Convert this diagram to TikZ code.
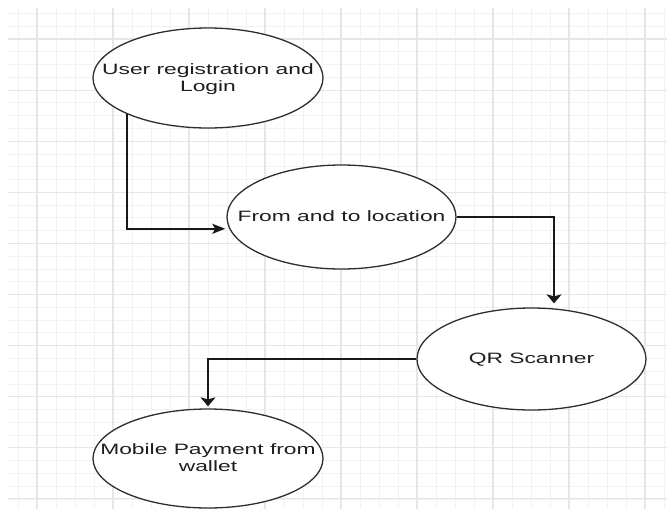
\documentclass[tikz,border=0pt]{standalone}
\usepackage{fontspec}
\setmainfont{Liberation Sans}
\usepackage{graphicx}
\usetikzlibrary{shapes.geometric,arrows.meta}

\definecolor{gridminor}{HTML}{F2F2F2}
\definecolor{gridmajor}{HTML}{E6E6E6}
\definecolor{ink}{HTML}{1E1E1E}
\definecolor{outline}{HTML}{2E2E2E}

% labels are set wide, as on the stretched canvas
\newcommand\widetext[1]{\scalebox{1.52}[1]{\begin{tabular}{@{}c@{}}#1\end{tabular}}}

\begin{document}
\begin{tikzpicture}[x=1pt,y=-1pt,
  stage/.style={ellipse, draw=outline, line width=1.3pt, fill=white,
    minimum width=230pt, minimum height=100pt, inner sep=0pt},
  caption/.style={text=ink, font=\fontsize{15}{17}\selectfont, inner sep=0pt, yshift=-1.5pt},
  flow/.style={draw=black!90, line width=1.6pt},
  headh/.style={-{Stealth[length=13pt,width=10pt,inset=3pt]}},
  headv/.style={-{Stealth[length=9pt,width=15pt,inset=2pt]}},
  minorline/.style={draw=gridminor, line width=0.8pt},
  majorline/.style={draw=gridmajor, line width=1.1pt}]

\useasboundingbox (0,0) rectangle (667,509);
\fill[white] (0,0) rectangle (667,509);

% background grid
\begin{scope}
  \clip (8,8) rectangle (667,509);
  \foreach \i in {0,...,34}
    \draw[minorline] ({18+19*\i},8) -- ({18+19*\i},509);
  \foreach \i in {0,...,38}
    \draw[minorline] (8,{13.45+12.775*\i}) -- (667,{13.45+12.775*\i});
  \foreach \i in {0,...,8}
    \draw[majorline] ({37+76*\i},8) -- ({37+76*\i},509);
  \foreach \i in {0,...,9}
    \draw[majorline] (8,{39+51.1*\i}) -- (667,{39+51.1*\i});
\end{scope}

% stages
\node[stage] (reg) at (208,78) {};
\node[caption] (regtext) at (reg.center) {\widetext{User registration and\\Login}};
\node[stage, minimum width=229pt, minimum height=104pt] (loc) at (341.5,217) {};
\node[caption] (loctext) at (loc.center) {\widetext{From and to location}};
\node[stage, minimum width=229pt, minimum height=102pt] (qr) at (531.5,359) {};
\node[caption] (qrtext) at (qr.center) {\widetext{QR Scanner}};
\node[stage, minimum height=99pt] (pay) at (208,458.5) {};
\node[caption] (paytext) at (pay.center) {\widetext{Mobile Payment from\\wallet}};

% connectors
\draw[flow, headh, shorten >=4pt] (reg.204.2) |- (loc.186.7);
\draw[flow, headv, shorten >=5pt] (loc.east) -| (qr.66.8);
\draw[flow, headv, shorten >=2pt] (qr.west) -| (pay.north);
\end{tikzpicture}
\end{document}
